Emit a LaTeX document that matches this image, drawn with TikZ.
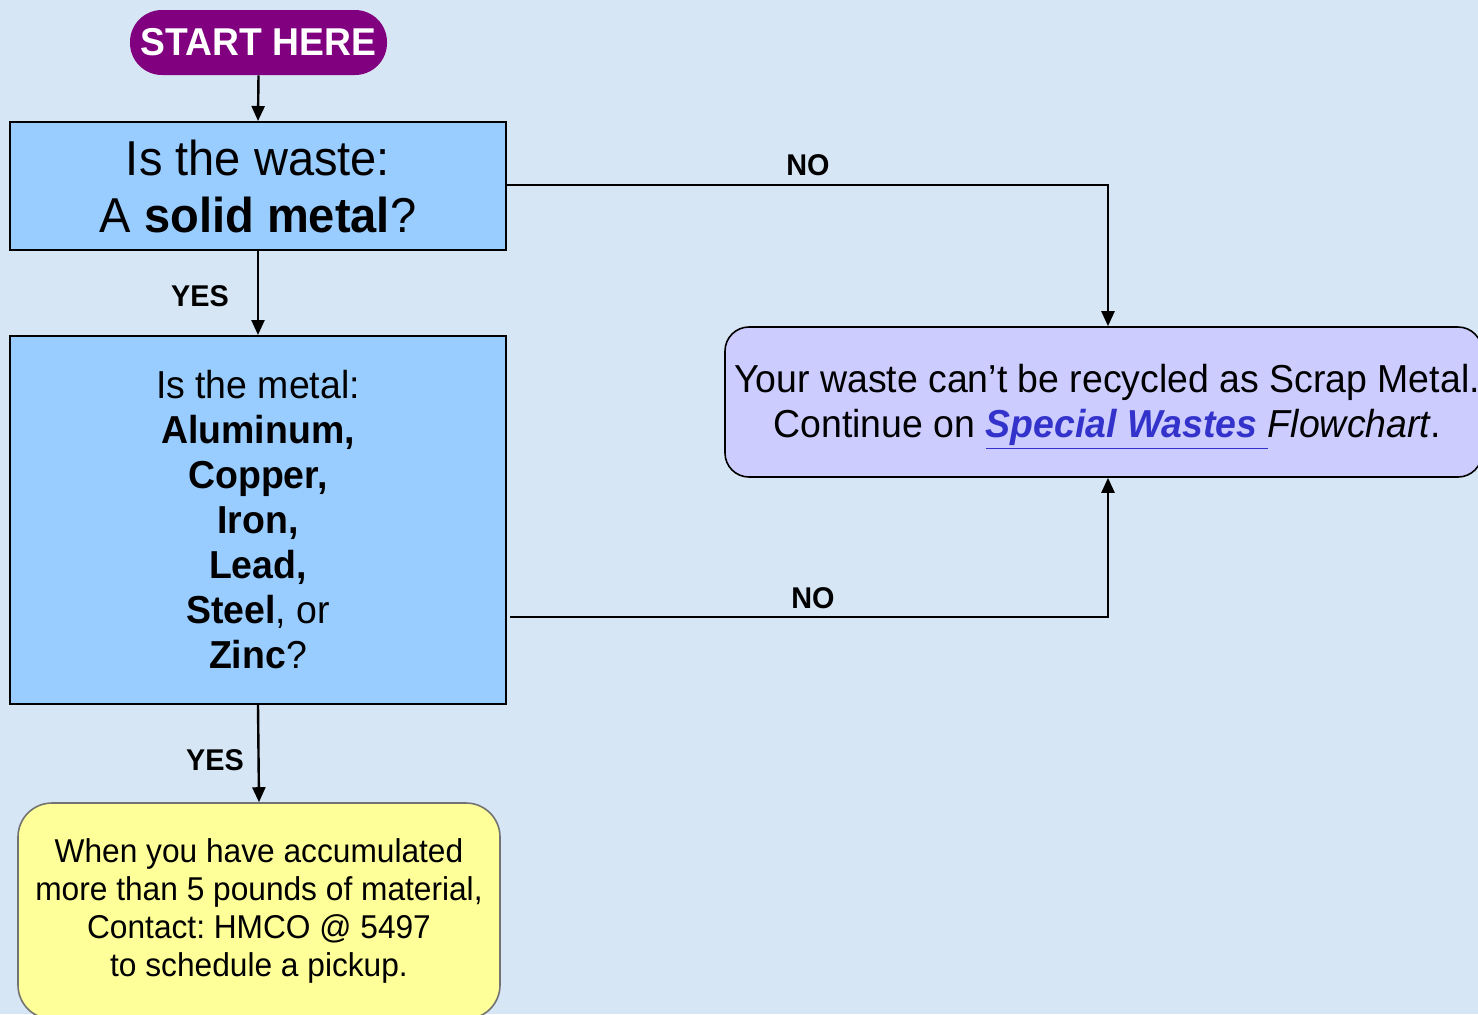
\documentclass[tikz,border=0pt]{standalone}
\usepackage{fontspec}
\setmainfont[FakeStretch=0.96]{Liberation Sans}
\usetikzlibrary{arrows.meta}
\frenchspacing
\definecolor{bg}{HTML}{D6E6F4}
\definecolor{purp}{HTML}{800080}
\definecolor{lblue}{HTML}{99CCFF}
\definecolor{lav}{HTML}{CCCCFF}
\definecolor{lyel}{HTML}{FFFF99}
\definecolor{linkblue}{HTML}{3333CC}
\tikzset{
  conn/.style={line width=1.2pt,-{Triangle[width=6.5pt,length=7.5pt]}},
  qbox/.style={draw=black,line width=1pt,fill=lblue,align=center,inner sep=0pt},
  lbl/.style={font=\fontsize{15}{17}\selectfont\bfseries,inner sep=0pt},
}
\begin{document}
\frenchspacing
\begin{tikzpicture}[x=0.5pt,y=-0.5pt]
\fill[bg] (0,0) rectangle (1478,1014);
\useasboundingbox (0,0) rectangle (1478,1014);
% start
\node[fill=purp,rounded corners=16pt,minimum width=128.5pt,minimum height=32.5pt,inner sep=0pt,
  text=white,font=\fontsize{19.4}{22}\selectfont\bfseries] (start) at (258.5,42.5) {START HERE};
% box1
\node[qbox,minimum width=248pt,minimum height=64pt,font=\fontsize{24.5}{28.5}\selectfont] (q1) at (258,186)
  {Is the waste:\\A \textbf{solid metal}?};
% box2
\node[qbox,minimum width=248pt,minimum height=184pt,font=\fontsize{19.5}{22.5}\selectfont] (q2) at (258,520)
  {Is the metal:\\\textbf{Aluminum,}\\\textbf{Copper,}\\\textbf{Iron,}\\\textbf{Lead,}\\\textbf{Steel}, or\\\textbf{Zinc}?};
% box3
\node[draw=black,line width=0.8pt,fill=lav,rounded corners=12pt,minimum width=378.5pt,minimum height=75pt,
  inner sep=0pt] (nr) at (1103.5,402) {};
\node[inner sep=0pt,align=center,font=\fontsize{19.5}{22.5}\selectfont] (nrtext) at (1107,407)
  {Your waste can’t be recycled as Scrap Metal.\\Continue on {\color{linkblue}\underline{\hbox{\textbf{\textit{Special Wastes}}\ }}}\textit{Flowchart}.};
% box4
\node[draw=black!55,line width=0.8pt,fill=lyel,rounded corners=17pt,minimum width=241pt,minimum height=108pt,
  inner sep=0pt,align=center,font=\fontsize{16.5}{19}\selectfont] (ok) at (259,911)
  {When you have accumulated\\more than 5 pounds of material,\\Contact: HMCO @ 5497\\to schedule a pickup.};
% connectors
\coordinate (c1) at (1108,185);
\coordinate (c2) at (1108,617);
\draw[conn] (start.south) -- (q1.north);
\draw[conn] (q1.south) -- (q2.north);
\draw[conn] (q2.south) -- (ok.north);
\draw[conn] (q1.east |- c1) -- (c1) -- (nr.north -| c1);
\draw[conn] ([xshift=1.5pt]q2.east |- c2) -- (c2) -- (nr.south -| c2);
% labels
\node[lbl] (l1) at (808,165) {NO};
\node[lbl] (l2) at (813,598) {NO};
\node[lbl] (l3) at (200,296) {YES};
\node[lbl] (l4) at (215,760) {YES};
\end{tikzpicture}
\end{document}
